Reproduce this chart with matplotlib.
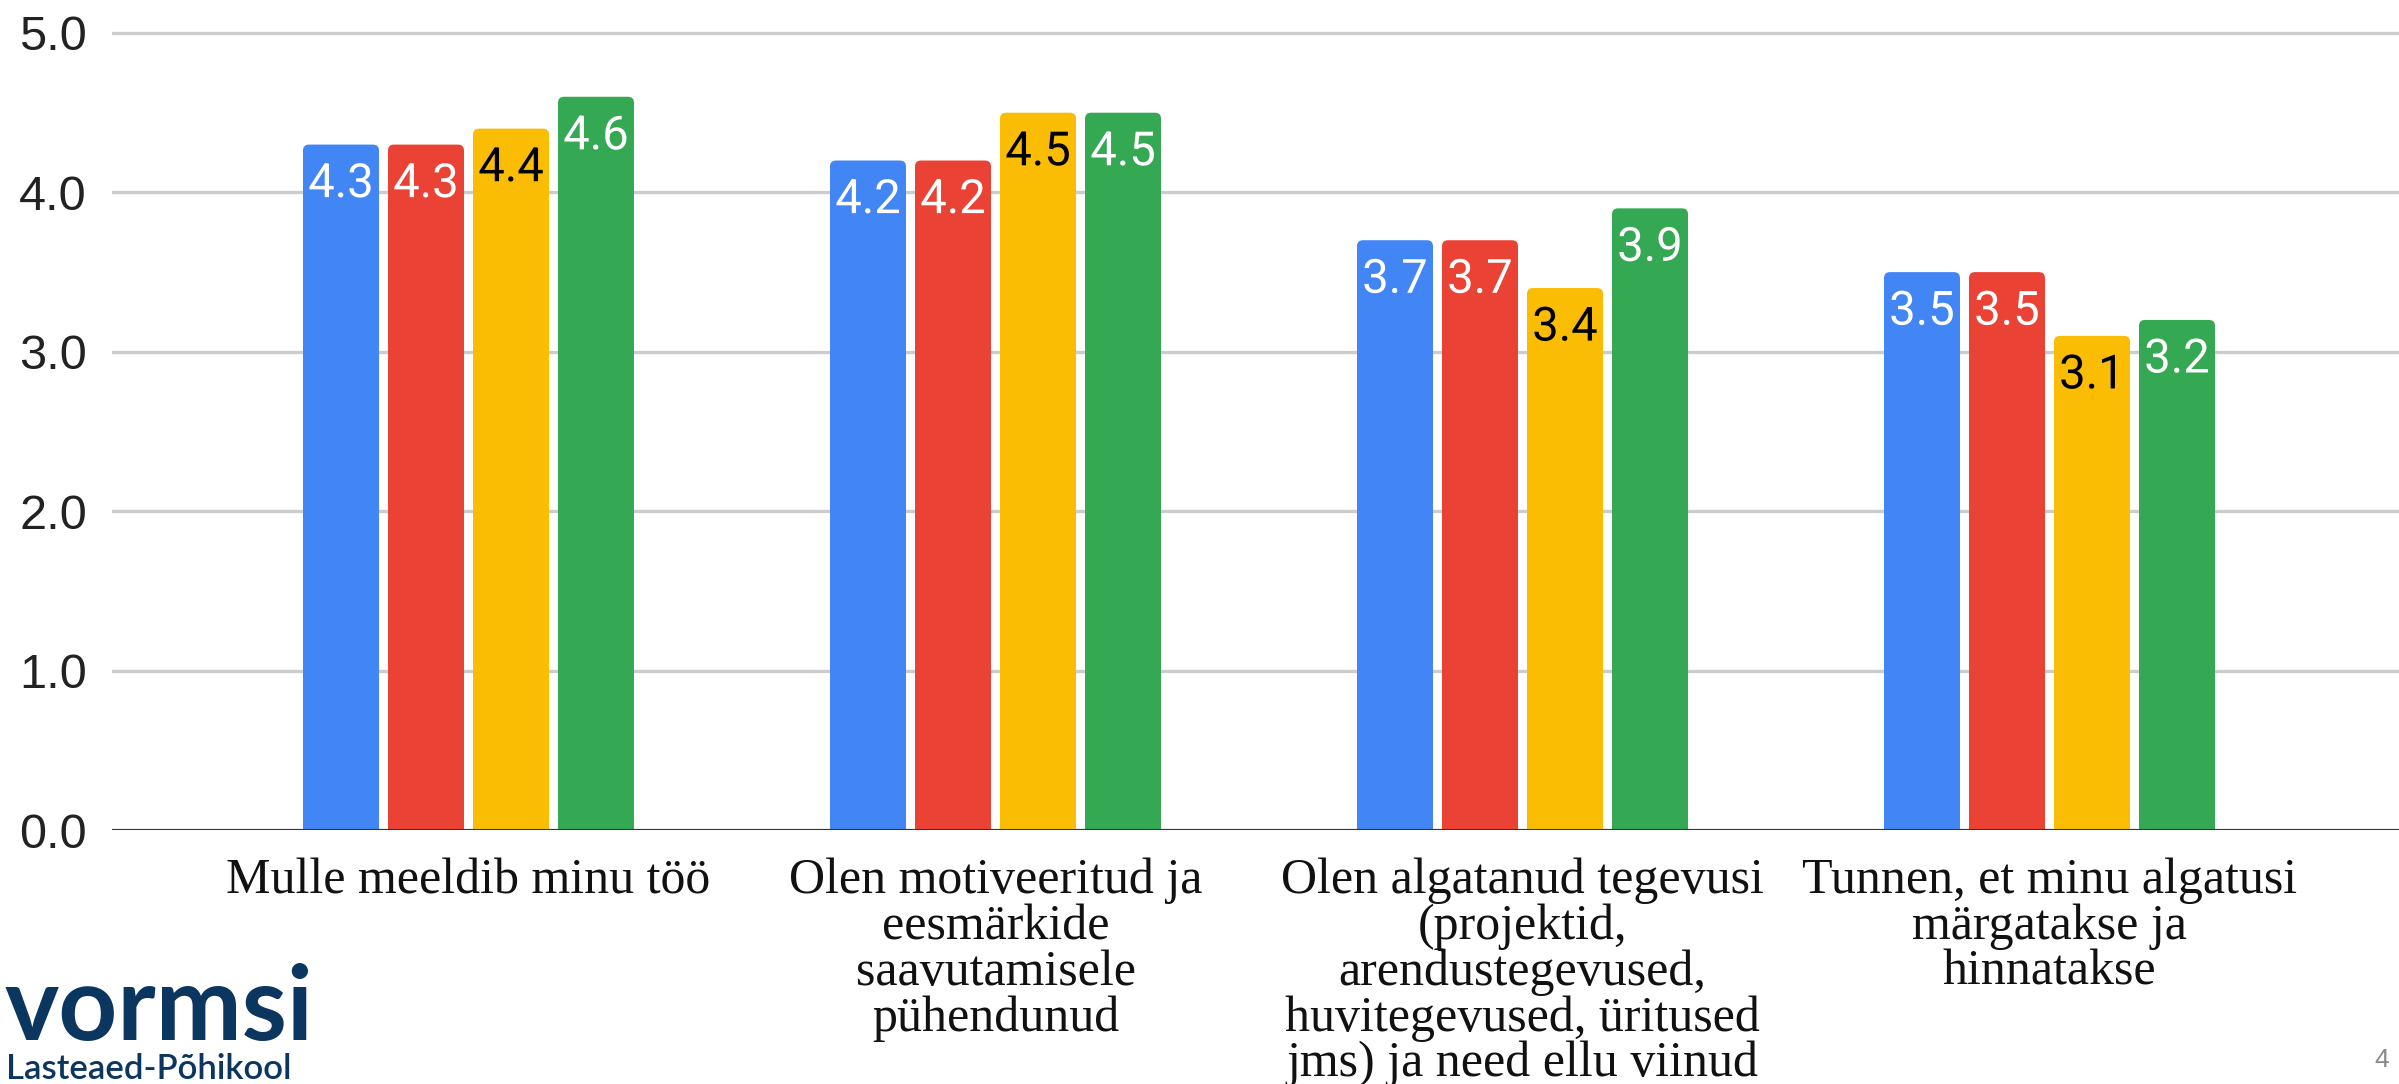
import matplotlib
matplotlib.use("Agg")
import matplotlib.pyplot as plt
import numpy as np
from matplotlib.patches import FancyBboxPatch
import matplotlib.patheffects as pe

# ---- data ----
categories = [
    "Mulle meeldib minu töö",
    "Olen motiveeritud ja\neesmärkide\nsaavutamisele\npühendunud",
    "Olen algatanud tegevusi\n(projektid,\narendustegevused,\nhuvitegevused, üritused\njms) ja need ellu viinud",
    "Tunnen, et minu algatusi\nmärgatakse ja\nhinnatakse",
]
series_a = [4.3, 4.2, 3.7, 3.5]   # blue
series_b = [4.3, 4.2, 3.7, 3.5]   # red
series_c = [4.4, 4.5, 3.4, 3.1]   # yellow
series_d = [4.6, 4.5, 3.9, 3.2]   # green
all_series = [series_a, series_b, series_c, series_d]
colors = ["#4285F4", "#EA4335", "#FBBC04", "#34A853"]
label_colors = ["white", "white", "black", "white"]
yticks = [0.0, 1.0, 2.0, 3.0, 4.0, 5.0]
ytick_labels = ["0.0", "1.0", "2.0", "3.0", "4.0", "5.0"]
logo_main = "vormsi"
logo_sub = "Lasteaed-Põhikool"
page_number = "4"

W, H = 2399, 1084
DPI = 100
fig = plt.figure(figsize=(W / DPI, H / DPI), dpi=DPI)
fig.patch.set_facecolor("white")

ax_left_px = 112
zero_px = 830          # y pixel (from top) of value 0
unit_y_px = 159.4
ax = fig.add_axes([ax_left_px / W, (H - zero_px) / H, 1 - ax_left_px / W, zero_px / H])

x = np.arange(len(categories))
step = 0.1613
width = 0.1442
unit_x_px = 527.0
xlim = ((ax_left_px - 468.5) / unit_x_px, (W - 468.5) / unit_x_px)
ylim = (0, zero_px / unit_y_px)
ax.set_xlim(*xlim)
ax.set_ylim(*ylim)

# grid
ax.set_yticks(yticks)
ax.set_yticklabels(ytick_labels, fontsize=35, family="Liberation Sans", color="#222222")
ax.yaxis.grid(True, color="#cccccc", linewidth=2.4, zorder=0)
ax.set_axisbelow(True)
ax.tick_params(axis="y", length=0, pad=18)
ax.tick_params(axis="x", length=0, pad=20)
for s in ax.spines.values():
    s.set_visible(False)

ax.set_xticks(x)
ax.set_xticklabels(categories, fontsize=36, family="Liberation Serif", color="#111111",
                   linespacing=0.98)

asp = (1 / unit_y_px) / (1 / unit_x_px)
rad = 6 / unit_x_px

for i, (vals, col, lc) in enumerate(zip(all_series, colors, label_colors)):
    offs = (i - 1.5) * step
    bars = ax.bar(x + offs, vals, width, color=col, zorder=2)
    for b, v in zip(bars, vals):
        b.set_visible(False)
        bx, bw, bh = b.get_x(), b.get_width(), b.get_height()
        p = FancyBboxPatch((bx, -0.1), bw, bh + 0.1,
                           boxstyle=f"round,pad=0,rounding_size={rad}",
                           mutation_aspect=asp, facecolor=col, edgecolor="none",
                           zorder=2)
        ax.add_patch(p)
        ax.annotate(f"{v:.1f}", xy=(bx + bw / 2, bh), xytext=(0, -28.5),
                    textcoords="offset points", ha="center", va="center",
                    fontsize=34, family="Roboto", color=lc, zorder=4,
                    path_effects=[pe.withStroke(linewidth=4, foreground=col)])

ax.axhline(0, color="#333333", linewidth=2.2, zorder=3)

# logo and page number
fig.text(5 / W, 1 - 1040 / H, logo_main, fontsize=74, family="Lato", weight="bold",
         color="#0B3660", ha="left", va="baseline")
fig.text(6 / W, 1 - 1079 / H, logo_sub, fontsize=25, family="Lato", weight="semibold",
         color="#0B3660", ha="left", va="baseline")
fig.text(2389 / W, 1 - 1067 / H, page_number, fontsize=19, family="Liberation Sans",
         color="#8a8a8a", ha="right", va="baseline")

fig.savefig("out.png", dpi=DPI, facecolor="white")
